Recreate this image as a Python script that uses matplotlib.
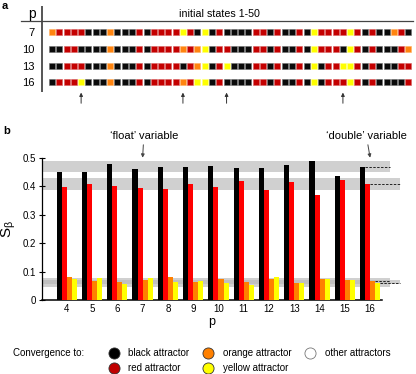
import matplotlib
matplotlib.use("Agg")
import matplotlib.pyplot as plt
from matplotlib.patches import Rectangle

plt.rcParams["font.family"] = ["Liberation Sans", "DejaVu Sans"]
plt.rcParams["mathtext.default"] = "regular"

# ---- panel a: attractor reached from initial states 1-50 (K/R/O/Y) ----
row_p = [7, 10, 13, 16]
states_p7 = "ORRRR" "KKKOK" "KKRKR" "RRRYR" "KYKRK" "KKKRR" "KRKKR" "KYRRR" "RYRKR" "KKORK"
states_p10 = "KKRRK" "KKKOK" "KKRKR" "RRROR" "OYKRR" "KKKRR" "KRKKR" "KYRRR" "KYRKR" "KKKRO"
states_p13 = "KKRRR" "KKKOK" "KKRKR" "RRRKR" "OYKRY" "KKKRR" "KRKKR" "KYKRR" "YYRKR" "KKKRR"
states_p16 = "KRRRY" "KKKOK" "KKRKR" "RRROR" "YYKRK" "KKKRR" "KRKKR" "KYKRR" "RYRKR" "KKKKR"
arrow_states = [5, 19, 25, 41]

# ---- panel b: basin size S_beta per attractor vs p ----
p_vals = [4, 5, 6, 7, 8, 9, 10, 11, 12, 13, 14, 15, 16]
s_black = [0.451, 0.450, 0.478, 0.461, 0.466, 0.466, 0.470, 0.465, 0.464, 0.473, 0.487, 0.436, 0.466]
s_red = [0.396, 0.407, 0.402, 0.392, 0.391, 0.406, 0.396, 0.419, 0.386, 0.414, 0.369, 0.423, 0.407]
s_orange = [0.081, 0.067, 0.064, 0.069, 0.080, 0.064, 0.075, 0.062, 0.073, 0.058, 0.073, 0.071, 0.068]
s_yellow = [0.074, 0.076, 0.056, 0.077, 0.064, 0.066, 0.058, 0.053, 0.080, 0.058, 0.073, 0.071, 0.058]
# grey bands (range per attractor) and 'double' reference values
band_black = [0.448, 0.488]
band_red = [0.386, 0.427]
band_orange = [0.047, 0.079]
band_yellow = [0.055, 0.070]
double_vals = [0.466, 0.407, 0.068, 0.058]

legend_labels = ["black attractor", "red attractor", "orange attractor",
                 "yellow attractor", "other attractors"]

sq_colors = {"K": "#0a0a0a", "R": "#c40000", "O": "#ff8410", "Y": "#ffff00"}
sq_edges = {"K": "#707070", "R": "#d86060", "O": "#ffb060", "Y": "#ffff80"}
bar_colors = ["#000000", "#ff0000", "#ff8000", "#ffff00"]
leg_colors = ["#000000", "#c00000", "#ff8000", "#ffff00", "#ffffff"]

W, H = 416, 374
fig = plt.figure(figsize=(W / 100, H / 100), dpi=100)

# overlay in pixel coordinates for labels, rules and legend
ax0 = fig.add_axes([0, 0, 1, 1])
ax0.set_xlim(0, W)
ax0.set_ylim(H, 0)
ax0.axis("off")


def fax(x0, y0, x1, y1):
    return [x0 / W, 1 - y1 / H, (x1 - x0) / W, (y1 - y0) / H]


# ---------------- panel a ----------------
ax0.text(2, 6, "a", fontsize=8, fontweight="bold", va="center", ha="left")
ax0.text(32, 14, "p", fontsize=10, ha="center", va="center")
ax0.text(219, 14, "initial states 1-50", fontsize=7.7, ha="center", va="center")
ax0.plot([41.7, 41.7], [5.5, 92], color="#555555", lw=1.4, solid_capstyle="butt")
ax0.plot([21, 413], [21, 21], color="#444444", lw=0.9)

gx0, gx1, gy0, gy1 = 48.4, 412.0, 24.0, 90.6
axg = fig.add_axes(fax(gx0, gy0, gx1, gy1))
axg.set_xlim(0.5, 50.5)
axg.set_ylim(len(row_p) - 0.5, -0.5)
for spine in axg.spines.values():
    spine.set_visible(False)
axg.set_xticks([])
axg.set_yticks(range(len(row_p)))
axg.set_yticklabels([str(p) for p in row_p], fontsize=8)
axg.tick_params(axis="y", length=0, pad=10)
axg.patch.set_alpha(0)

rows = [states_p7, states_p10, states_p13, states_p16]
px_x = (gx1 - gx0) / 50
px_y = (gy1 - gy0) / len(row_p)
side = 6.0
sw, sh = side / px_x, side / px_y
for r, states in enumerate(rows):
    for i, c in enumerate(states):
        axg.add_patch(Rectangle((i + 1 - sw / 2, r - sh / 2), sw, sh,
                                facecolor=sq_colors[c], edgecolor=sq_edges[c],
                                lw=0.4))

for s in arrow_states:
    axg.annotate("", xy=(s, -0.03), xycoords=("data", "axes fraction"),
                 xytext=(s, -0.19), textcoords=("data", "axes fraction"),
                 arrowprops=dict(arrowstyle="-|>", color="#333333", lw=0.7,
                                 mutation_scale=5, shrinkA=0, shrinkB=0))

# ---------------- panel b ----------------
ax0.text(3, 131, "b", fontsize=8, fontweight="bold", va="center", ha="left")

axb = fig.add_axes(fax(42, 157.7, 382, 300))
axb.set_xlim(3.02, 16.47)
axb.set_ylim(0, 0.5)
axb.patch.set_alpha(0)
for sd in ["top", "right"]:
    axb.spines[sd].set_visible(False)
axb.spines["left"].set_linewidth(0.9)
axb.spines["bottom"].set_linewidth(1.1)

bw = 0.2
offsets = [-0.3, -0.1, 0.1, 0.3]
for vals, col, off in zip([s_black, s_red, s_orange, s_yellow], bar_colors, offsets):
    axb.bar([p + off for p in p_vals], vals, width=bw, color=col, zorder=3, lw=0)

band_ext = [1.024, 1.053, 1.024, 1.053]
for band, xe in zip([band_black, band_red, band_orange, band_yellow], band_ext):
    axb.axhspan(band[0], band[1], xmin=0, xmax=xe, color="#b8b8b8", alpha=0.65,
                lw=0, zorder=1, clip_on=False)

dash_x0 = [15.8, 16.0, 16.2, 16.4]
dash_x1 = [16.8, 17.2, 16.8, 17.2]
for v, x0, x1 in zip(double_vals, dash_x0, dash_x1):
    axb.plot([x0, x1], [v, v], color="#222222", lw=0.7, ls=(0, (2.5, 1.5)),
             zorder=4, clip_on=False)

axb.set_xticks(p_vals)
axb.set_xticklabels([str(p) for p in p_vals], fontsize=7)
axb.tick_params(axis="x", length=0, pad=3)
axb.set_yticks([0, 0.1, 0.2, 0.3, 0.4, 0.5])
axb.set_yticklabels(["0", "0.1", "0.2", "0.3", "0.4", "0.5"], fontsize=7)
axb.tick_params(axis="y", direction="inout", length=4, width=0.8, pad=2)
axb.set_xlabel("p", fontsize=9, labelpad=1)
axb.set_ylabel(r"$S_{\beta}$", fontsize=11, labelpad=4)

axb.annotate("\u2018float\u2019 variable", xy=(7, 0.5), xytext=(7.05, 0.56),
             textcoords="data", fontsize=8, ha="center", va="bottom",
             annotation_clip=False,
             arrowprops=dict(arrowstyle="-|>", color="#444444", lw=0.7,
                             mutation_scale=5, shrinkA=1, shrinkB=0))
axb.annotate("\u2018double\u2019 variable", xy=(16, 0.5), xytext=(15.85, 0.56),
             textcoords="data", fontsize=8, ha="center", va="bottom",
             annotation_clip=False,
             arrowprops=dict(arrowstyle="-|>", color="#444444", lw=0.7,
                             mutation_scale=5, shrinkA=1, shrinkB=0))

# ---------------- legend ----------------
ax0.text(12.7, 353, "Convergence to:", fontsize=7, ha="left", va="center")
leg_x = [114, 114, 208.3, 208.3, 310.3]
leg_y = [352.7, 368.3, 352.7, 368.3, 352.7]
for lab, col, x, y in zip(legend_labels, leg_colors, leg_x, leg_y):
    ec = "#777777" if lab.startswith("other") else "#333333"
    ax0.plot(x, y, "o", ms=8, mfc=col, mec=ec, mew=0.6)
    ax0.text(x + 14.3, y, lab, fontsize=7, ha="left", va="center")

fig.savefig("out.png", dpi=100)
